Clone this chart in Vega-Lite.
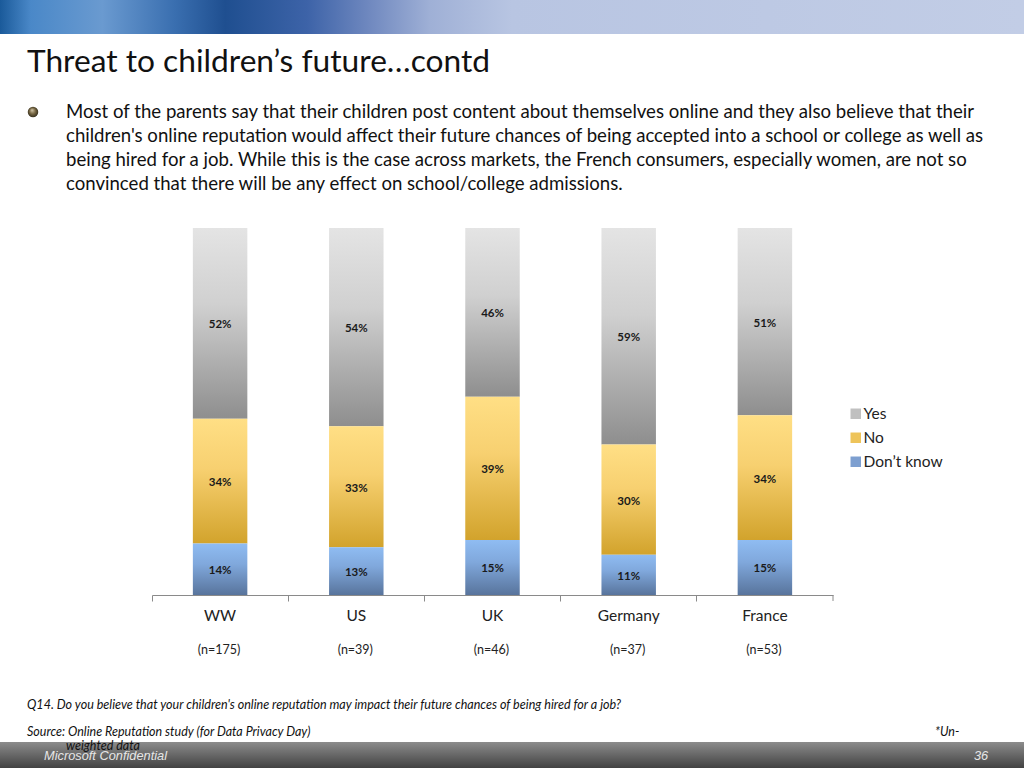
{
  "$schema": "https://vega.github.io/schema/vega-lite/v6.json",
  "width": 681,
  "height": 367,
  "autosize": "none",
  "padding": {"left": 152, "top": 228, "right": 191, "bottom": 173},
  "background": "white",
  "config": {"view": {"stroke": null}, "font": "Lato"},
  "title": {
    "text": "Threat to children’s future…contd",
    "anchor": "start",
    "frame": "group",
    "dx": -125,
    "offset": -79,
    "font": "Lato",
    "fontSize": 31.7,
    "fontWeight": "normal",
    "color": "#111111"
  },
  "datasets": {
    "shares": [
      {"market": "WW", "answer": "Yes", "share": 0.52},
      {"market": "WW", "answer": "No", "share": 0.34},
      {"market": "WW", "answer": "Don’t know", "share": 0.14},
      {"market": "US", "answer": "Yes", "share": 0.54},
      {"market": "US", "answer": "No", "share": 0.33},
      {"market": "US", "answer": "Don’t know", "share": 0.13},
      {"market": "UK", "answer": "Yes", "share": 0.46},
      {"market": "UK", "answer": "No", "share": 0.39},
      {"market": "UK", "answer": "Don’t know", "share": 0.15},
      {"market": "Germany", "answer": "Yes", "share": 0.59},
      {"market": "Germany", "answer": "No", "share": 0.30},
      {"market": "Germany", "answer": "Don’t know", "share": 0.11},
      {"market": "France", "answer": "Yes", "share": 0.51},
      {"market": "France", "answer": "No", "share": 0.34},
      {"market": "France", "answer": "Don’t know", "share": 0.15}
    ],
    "samples": [
      {"market": "WW", "n": "(n=175)"},
      {"market": "US", "n": "(n=39)"},
      {"market": "UK", "n": "(n=46)"},
      {"market": "Germany", "n": "(n=37)"},
      {"market": "France", "n": "(n=53)"}
    ]
  },
  "layer": [
    {
      "data": {"values": [{"part": "header"}]},
      "mark": {
        "type": "rect",
        "x": -152, "x2": 872, "y": -228, "y2": -194,
        "fill": {
          "gradient": "linear", "x1": 0, "y1": 0, "x2": 1, "y2": 0,
          "stops": [
            {"offset": 0, "color": "#1a5a9a"},
            {"offset": 0.03, "color": "#4a88c8"},
            {"offset": 0.1, "color": "#6a9ad0"},
            {"offset": 0.17, "color": "#3a6fb0"},
            {"offset": 0.22, "color": "#1f4f90"},
            {"offset": 0.3, "color": "#3d63a8"},
            {"offset": 0.36, "color": "#6f88bf"},
            {"offset": 0.42, "color": "#9fb0d6"},
            {"offset": 0.5, "color": "#b8c5e2"},
            {"offset": 1, "color": "#c2cde6"}
          ]
        }
      }
    },
    {
      "data": {"values": [{"part": "footer"}]},
      "mark": {
        "type": "rect",
        "x": -152, "x2": 872, "y": 514, "y2": 540,
        "fill": {
          "gradient": "linear", "x1": 0, "y1": 0, "x2": 0, "y2": 1,
          "stops": [
            {"offset": 0, "color": "#8c8c8c"},
            {"offset": 1, "color": "#424242"}
          ]
        }
      }
    },
    {
      "data": {"values": [{"part": "bullet"}]},
      "mark": {
        "type": "point", "filled": true, "shape": "circle", "size": 110, "opacity": 1,
        "x": -119, "y": -116,
        "fill": {
          "gradient": "radial", "x1": 0.4, "y1": 0.3, "r1": 0, "x2": 0.5, "y2": 0.5, "r2": 0.55,
          "stops": [
            {"offset": 0, "color": "#d8ccb0"},
            {"offset": 0.5, "color": "#7a6a45"},
            {"offset": 1, "color": "#2e2818"}
          ]
        }
      }
    },
    {
      "data": {"values": [{"note": [
        "Most of the parents say that their children post content about themselves online and they also believe that their",
        "children's online reputation would affect their future chances of being accepted into a school or college as well as",
        "being hired for a job. While this is the case across markets, the French consumers, especially women, are not so",
        "convinced that there will be any effect on school/college admissions."
      ]}]},
      "mark": {
        "type": "text", "align": "left", "baseline": "middle", "font": "Lato",
        "fontSize": 18.6, "lineHeight": 24, "color": "#111111", "x": -86, "y": -116
      },
      "encoding": {"text": {"field": "note"}}
    },
    {
      "data": {"values": [{"note": "Q14. Do you believe that your children's online reputation may impact their future chances of being hired for a job?"}]},
      "mark": {"type": "text", "align": "left", "baseline": "middle", "font": "Lato", "fontStyle": "italic", "fontSize": 12.55, "color": "#111111", "x": -125, "y": 477},
      "encoding": {"text": {"field": "note"}}
    },
    {
      "data": {"values": [{"note": "Source: Online Reputation study (for Data Privacy Day)"}]},
      "mark": {"type": "text", "align": "left", "baseline": "middle", "font": "Lato", "fontStyle": "italic", "fontSize": 12.5, "color": "#111111", "x": -125, "y": 504},
      "encoding": {"text": {"field": "note"}}
    },
    {
      "data": {"values": [{"note": "*Un-"}]},
      "mark": {"type": "text", "align": "left", "baseline": "middle", "font": "Lato", "fontStyle": "italic", "fontSize": 12.5, "color": "#111111", "x": 783, "y": 504},
      "encoding": {"text": {"field": "note"}}
    },
    {
      "data": {"values": [{"note": "weighted data"}]},
      "mark": {"type": "text", "align": "left", "baseline": "middle", "font": "Lato", "fontStyle": "italic", "fontSize": 12.5, "color": "#111111", "x": -86, "y": 518},
      "encoding": {"text": {"field": "note"}}
    },
    {
      "data": {"values": [{"note": "Microsoft Confidential"}]},
      "mark": {"type": "text", "align": "left", "baseline": "middle", "font": "Liberation Sans", "fontStyle": "italic", "fontSize": 12.8, "color": "#e6e6e6", "x": -108, "y": 528},
      "encoding": {"text": {"field": "note"}}
    },
    {
      "data": {"values": [{"note": "36"}]},
      "mark": {"type": "text", "align": "left", "baseline": "middle", "font": "Liberation Sans", "fontStyle": "italic", "fontSize": 12.8, "color": "#e6e6e6", "x": 822, "y": 528},
      "encoding": {"text": {"field": "note"}}
    },
    {
      "data": {"name": "shares"},
      "transform": [
        {"stack": "share", "groupby": ["market"], "sort": [{"field": "answer", "order": "ascending"}], "as": ["low", "high"]}
      ],
      "mark": {"type": "bar"},
      "encoding": {
        "x": {
          "field": "market", "type": "nominal",
          "scale": {"domain": ["WW", "US", "UK", "Germany", "France"], "paddingInner": 0.6, "paddingOuter": 0.3},
          "axis": {
            "title": null, "labelAngle": 0, "labelFontSize": 15.5, "labelFont": "Lato", "labelColor": "#222222",
            "labelPadding": 7, "domainColor": "#8a8a8a", "ticks": true, "tickColor": "#8a8a8a", "tickSize": 6, "bandPosition": -0.75, "grid": false
          }
        },
        "y": {"field": "low", "type": "quantitative", "scale": {"domain": [0, 1]}, "axis": null},
        "y2": {"field": "high"},
        "color": {
          "condition": [
            {"test": "datum.answer === 'Yes'", "value": {"gradient": "linear", "x1": 0, "y1": 0, "x2": 0, "y2": 1, "stops": [{"offset": 0, "color": "#e4e4e4"}, {"offset": 0.4, "color": "#d0d0d0"}, {"offset": 1, "color": "#8e8e8e"}]}},
            {"test": "datum.answer === 'No'", "value": {"gradient": "linear", "x1": 0, "y1": 0, "x2": 0, "y2": 1, "stops": [{"offset": 0, "color": "#ffdf85"}, {"offset": 0.4, "color": "#f7d070"}, {"offset": 1, "color": "#d2a32c"}]}},
            {"test": "datum.answer === 'Don’t know'", "value": {"gradient": "linear", "x1": 0, "y1": 0, "x2": 0, "y2": 1, "stops": [{"offset": 0, "color": "#8fbcf2"}, {"offset": 0.4, "color": "#80a8dc"}, {"offset": 1, "color": "#58749c"}]}}
          ],
          "field": "answer", "type": "nominal",
          "scale": {"domain": ["Yes", "No", "Don’t know"], "range": ["#c0c0c0", "#eec45a", "#7d9fd0"]},
          "legend": {
            "title": null, "orient": "none", "legendX": 696, "legendY": 178,
            "symbolType": "square", "symbolSize": 110, "symbolStrokeWidth": 0, "symbolOpacity": 1,
            "labelFont": "Lato", "labelFontSize": 15.5, "labelColor": "#222222", "labelOffset": 0, "rowPadding": 7,
            "encode": {
              "symbols": {
                "update": {
                  "fill": {"signal": "{gradient: 'linear', x1: 0, y1: 0, x2: 0, y2: 1, stops: datum.value === 'Yes' ? [{offset: 0, color: '#e4e4e4'}, {offset: 1, color: '#9a9a9a'}] : datum.value === 'No' ? [{offset: 0, color: '#ffdf85'}, {offset: 1, color: '#d2a32c'}] : [{offset: 0, color: '#8fbcf2'}, {offset: 1, color: '#58749c'}]}"}
                }
              }
            }
          }
        }
      }
    },
    {
      "data": {"values": [{"market": "France"}]},
      "mark": {"type": "rule", "color": "#8a8a8a"},
      "encoding": {
        "x": {"field": "market", "type": "nominal", "bandPosition": 1.75},
        "y": {"datum": 0, "type": "quantitative"},
        "y2": {"datum": -0.0163}
      }
    },
    {
      "data": {"name": "shares"},
      "transform": [
        {"stack": "share", "groupby": ["market"], "sort": [{"field": "answer", "order": "ascending"}], "as": ["low", "high"]},
        {"fold": ["low", "high"], "as": ["edge", "level"]},
        {"aggregate": [{"op": "mean", "field": "level", "as": "mid"}], "groupby": ["market", "answer", "share"]}
      ],
      "mark": {"type": "text", "font": "Lato", "fontSize": 11.5, "fontWeight": "bold", "color": "#1a1a1a", "baseline": "middle", "dy": 2},
      "encoding": {
        "x": {"field": "market", "type": "nominal"},
        "y": {"field": "mid", "type": "quantitative"},
        "text": {"field": "share", "type": "quantitative", "format": ".0%"}
      }
    },
    {
      "data": {"name": "samples"},
      "mark": {"type": "text", "font": "Lato", "fontSize": 12.5, "color": "#222222", "baseline": "middle", "dx": -1},
      "encoding": {
        "x": {"field": "market", "type": "nominal"},
        "y": {"datum": -0.15, "type": "quantitative"},
        "text": {"field": "n"}
      }
    }
  ]
}
